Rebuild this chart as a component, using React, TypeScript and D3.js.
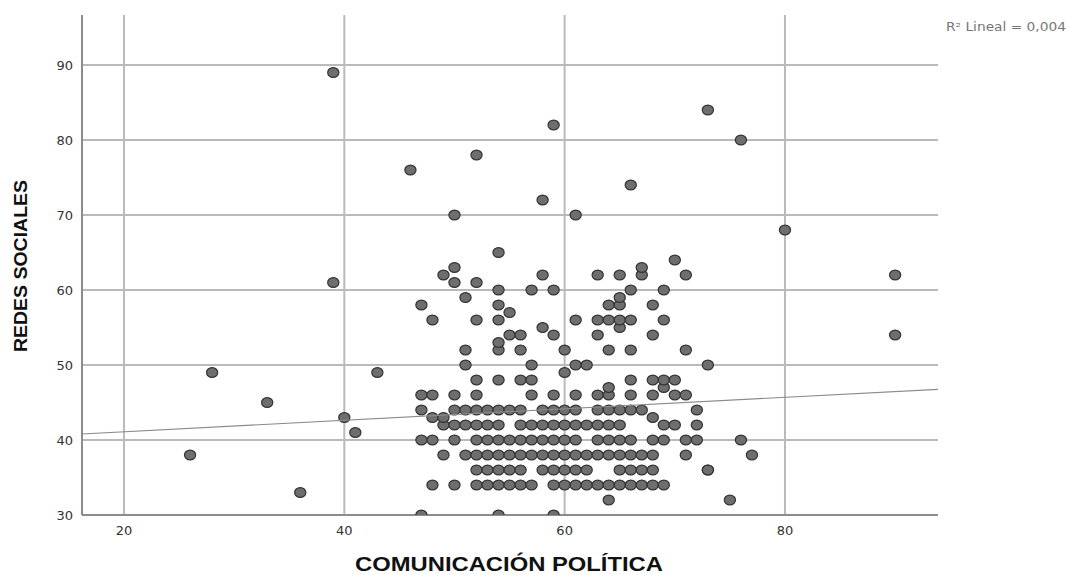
import React from "react";
import * as d3 from "d3";

// COMUNICACIÓN POLÍTICA (x) vs REDES SOCIALES (y)
const xValues: number[] = [
  // y=30
  47, 54, 59,
  // y=32
  64, 75,
  // y=33
  36,
  // y=34
  48, 50, 52, 53, 54, 55, 56, 57, 59, 60, 61, 62, 63, 64, 65, 66, 67, 68, 69,
  // y=36
  52, 53, 54, 55, 56, 58, 59, 60, 61, 62, 65, 66, 67, 68, 73, 73,
  // y=38
  26, 49, 51, 52, 53, 54, 55, 56, 57, 58, 59, 60, 61, 62, 63, 64, 65, 66, 67, 68, 71, 77,
  // y=40
  47, 48, 50, 52, 53, 54, 55, 56, 57, 58, 59, 60, 61, 63, 64, 65, 66, 68, 69, 71, 72, 76,
  // y=41
  41,
  // y=42
  49, 50, 51, 52, 53, 54, 56, 57, 58, 59, 60, 61, 62, 63, 64, 65, 69, 70, 72,
  // y=43
  40, 48, 49, 68,
  // y=44
  47, 50, 51, 52, 53, 54, 55, 56, 58, 59, 60, 61, 63, 64, 65, 66, 67, 72,
  // y=45
  33,
  // y=46
  47, 48, 50, 52, 57, 59, 61, 63, 64, 66, 68, 70, 71,
  // y=47
  64, 69,
  // y=48
  52, 54, 56, 57, 66, 68, 69, 70,
  // y=49
  28, 43, 60,
  // y=50
  51, 57, 61, 62, 73,
  // y=52
  51, 54, 56, 60, 64, 66, 71,
  // y=53
  54,
  // y=54
  55, 56, 59, 63, 68, 90,
  // y=55
  58, 65,
  // y=56
  48, 52, 54, 61, 63, 64, 65, 66, 69,
  // y=57
  55,
  // y=58
  47, 54, 64, 65, 68,
  // y=59
  51, 65,
  // y=60
  54, 57, 59, 66, 69,
  // y=61
  39, 50, 52,
  // y=62
  49, 58, 63, 65, 67, 71, 90,
  // y=63
  50, 67,
  // y=64
  70,
  // y=65
  54,
  // y=68
  80,
  // y=70
  50, 61,
  // y=72
  58,
  // y=74
  66,
  // y=76
  46,
  // y=78
  52,
  // y=80
  76,
  // y=82
  59,
  // y=84
  73,
  // y=89
  39,
];

const yValues: number[] = [
  30, 30, 30,
  32, 32,
  33,
  ...Array(19).fill(34),
  ...Array(16).fill(36),
  ...Array(22).fill(38),
  ...Array(22).fill(40),
  41,
  ...Array(19).fill(42),
  43, 43, 43, 43,
  ...Array(18).fill(44),
  45,
  ...Array(13).fill(46),
  47, 47,
  ...Array(8).fill(48),
  49, 49, 49,
  ...Array(5).fill(50),
  ...Array(7).fill(52),
  53,
  ...Array(6).fill(54),
  55, 55,
  ...Array(9).fill(56),
  57,
  ...Array(5).fill(58),
  59, 59,
  ...Array(5).fill(60),
  61, 61, 61,
  ...Array(7).fill(62),
  63, 63,
  64,
  65,
  68,
  70, 70,
  72,
  74,
  76,
  78,
  80,
  82,
  84,
  89,
];

const xTicks: number[] = [20, 40, 60, 80];
const yTicks: number[] = [30, 40, 50, 60, 70, 80, 90];

// Linear fit shown in the chart (R² Lineal = 0,004)
const fitIntercept = 39.56;
const fitSlope = 0.0767;
const fitLabel = "R² Lineal = 0,004";
const xTitle = "COMUNICACIÓN POLÍTICA";
const yTitle = "REDES SOCIALES";

export default function App() {
  const W = 1067;
  const H = 575;
  const left = 82, right = 938, top = 15, bottom = 515;

  const x = d3.scaleLinear().domain([16.19, 93.89]).range([left, right]);
  const y = d3.scaleLinear().domain([30, 96.667]).range([bottom, top]);

  const points = xValues.map((v, i) => ({ x: v, y: yValues[i] }));
  const [xd0, xd1] = x.domain();
  const fitLine = d3.line<[number, number]>()
    .x((d) => x(d[0]))
    .y((d) => y(d[1]))([
      [xd0, fitIntercept + fitSlope * xd0],
      [xd1, fitIntercept + fitSlope * xd1],
    ]);

  const font = "'DejaVu Sans', Verdana, sans-serif";
  const titleFont = "'Liberation Sans', Arial, sans-serif";

  return (
    <svg
      width={W}
      height={H}
      style={{ position: "absolute", left: 0, top: 0, background: "#fff" }}
    >
      <defs>
        <clipPath id="plot">
          <rect x={left} y={top} width={right - left} height={bottom - top} />
        </clipPath>
      </defs>
      {/* grid */}
      {yTicks.map((t) => (
        <line key={"gy" + t} x1={left} x2={right} y1={y(t)} y2={y(t)} stroke="#bababa" strokeWidth={2} />
      ))}
      {xTicks.map((t) => (
        <line key={"gx" + t} x1={x(t)} x2={x(t)} y1={top} y2={bottom} stroke="#bababa" strokeWidth={2} />
      ))}
      {/* axes */}
      <line x1={left} x2={left} y1={top} y2={bottom} stroke="#8c8c8c" strokeWidth={2} />
      <line x1={left} x2={right} y1={bottom} y2={bottom} stroke="#8c8c8c" strokeWidth={2} />

      {/* points */}
      <g clipPath="url(#plot)">
        {points.map((p, i) => (
          <ellipse
            key={i}
            cx={x(p.x)}
            cy={y(p.y)}
            rx={5.6}
            ry={4.9}
            fill="#6e6e6e"
            stroke="#333"
            strokeWidth={1.2}
          />
        ))}
        {fitLine && <path d={fitLine} stroke="#8a8a8a" strokeWidth={1.2} fill="none" />}
      </g>

      {/* tick labels */}
      {yTicks.map((t) => (
        <text key={"ty" + t} x={73} y={y(t)} dy="0.36em" textAnchor="end" fontFamily={font} fontSize={13} fill="#333">
          {t}
        </text>
      ))}
      {xTicks.map((t) => (
        <text key={"tx" + t} x={x(t)} y={535} textAnchor="middle" fontFamily={font} fontSize={13} fill="#333">
          {t}
        </text>
      ))}

      {/* titles */}
      <text
        x={355}
        y={571}
        fontFamily={titleFont}
        fontWeight="bold"
        fontSize={20}
        fill="#111"
        textLength={308}
        lengthAdjust="spacingAndGlyphs"
      >
        {xTitle}
      </text>
      <text
        transform={`translate(27, 352) rotate(-90)`}
        fontFamily={titleFont}
        fontWeight="bold"
        fontSize={19}
        fill="#111"
        textLength={172}
        lengthAdjust="spacingAndGlyphs"
      >
        {yTitle}
      </text>
      <text
        x={946}
        y={31}
        fontFamily={font}
        fontSize={11.5}
        fill="#777"
        textLength={120}
        lengthAdjust="spacingAndGlyphs"
      >
        {fitLabel}
      </text>
    </svg>
  );
}
